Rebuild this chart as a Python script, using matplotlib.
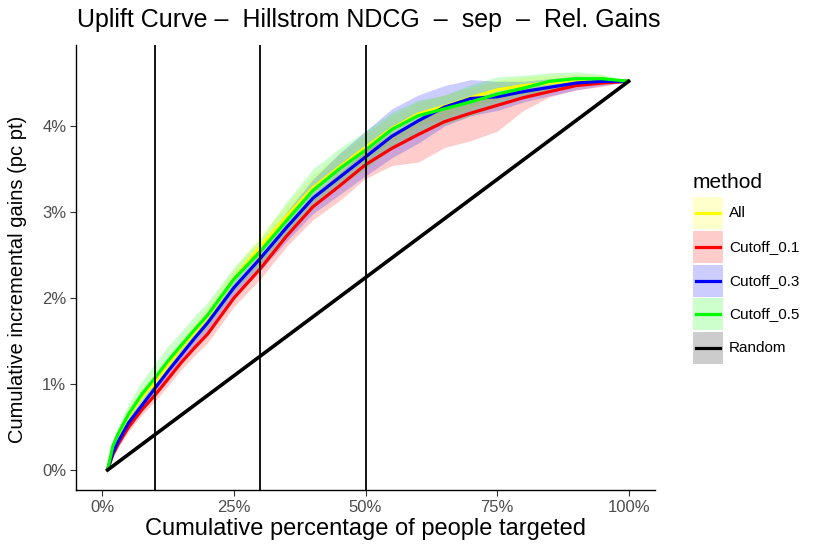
import matplotlib
matplotlib.use("Agg")
import matplotlib.pyplot as plt
from matplotlib.patches import Rectangle
from matplotlib.lines import Line2D
import numpy as np

plt.rcParams['font.family'] = ['Liberation Sans', 'DejaVu Sans']

# ---- data ----
pct = [1, 2, 3, 5, 7.5, 10, 12.5, 15, 17.5, 20, 25, 30, 35, 40, 45, 50,
       55, 60, 65, 70, 75, 80, 85, 90, 95, 100]

all_gain = [0.00, 0.25, 0.40, 0.63, 0.85, 1.02, 1.22, 1.42, 1.60, 1.78, 2.22, 2.60, 2.95, 3.28,
            3.52, 3.75, 3.97, 4.14, 4.23, 4.33, 4.42, 4.47, 4.50, 4.53, 4.54, 4.52]
cut01_gain = [0.00, 0.18, 0.30, 0.50, 0.70, 0.87, 1.06, 1.25, 1.42, 1.58, 2.00, 2.34, 2.72, 3.06,
              3.30, 3.55, 3.74, 3.90, 4.05, 4.15, 4.24, 4.33, 4.40, 4.47, 4.50, 4.52]
cut03_gain = [0.00, 0.20, 0.33, 0.55, 0.75, 0.95, 1.15, 1.34, 1.53, 1.71, 2.12, 2.46, 2.82, 3.16,
              3.40, 3.64, 3.88, 4.06, 4.22, 4.32, 4.34, 4.40, 4.45, 4.50, 4.52, 4.52]
cut05_gain = [0.00, 0.28, 0.42, 0.65, 0.88, 1.07, 1.27, 1.45, 1.63, 1.80, 2.22, 2.54, 2.90, 3.25,
              3.50, 3.72, 3.96, 4.12, 4.20, 4.28, 4.37, 4.44, 4.52, 4.55, 4.55, 4.52]

# ribbon extents below / above each curve
all_dn = [0, 0.06, 0.08, 0.10, 0.10, 0.10, 0.10, 0.10, 0.11, 0.12, 0.12, 0.13, 0.14, 0.15,
          0.15, 0.15, 0.15, 0.14, 0.13, 0.12, 0.11, 0.10, 0.09, 0.07, 0.05, 0]
all_up = [0, 0.06, 0.08, 0.10, 0.10, 0.10, 0.10, 0.10, 0.11, 0.12, 0.12, 0.13, 0.14, 0.15,
          0.15, 0.15, 0.15, 0.14, 0.13, 0.12, 0.11, 0.10, 0.09, 0.07, 0.05, 0]
cut01_dn = [0, 0.03, 0.04, 0.05, 0.06, 0.07, 0.08, 0.08, 0.09, 0.10, 0.10, 0.12, 0.12, 0.15,
            0.17, 0.16, 0.20, 0.32, 0.30, 0.32, 0.30, 0.15, 0.06, 0.05, 0.04, 0]
cut01_up = [0, 0.03, 0.04, 0.05, 0.06, 0.07, 0.08, 0.08, 0.09, 0.10, 0.10, 0.12, 0.14, 0.14,
            0.15, 0.16, 0.18, 0.18, 0.15, 0.15, 0.12, 0.10, 0.08, 0.06, 0.04, 0]
cut03_dn = [0, 0.04, 0.05, 0.06, 0.07, 0.08, 0.09, 0.10, 0.10, 0.11, 0.12, 0.14, 0.16, 0.18,
            0.20, 0.22, 0.25, 0.26, 0.22, 0.20, 0.16, 0.12, 0.10, 0.08, 0.05, 0]
cut03_up = [0, 0.04, 0.05, 0.06, 0.07, 0.08, 0.09, 0.10, 0.10, 0.11, 0.12, 0.14, 0.18, 0.22,
            0.28, 0.30, 0.32, 0.30, 0.25, 0.22, 0.18, 0.12, 0.10, 0.08, 0.05, 0]
cut05_dn = [0, 0.05, 0.06, 0.08, 0.09, 0.10, 0.11, 0.12, 0.12, 0.13, 0.14, 0.15, 0.16, 0.18,
            0.20, 0.22, 0.22, 0.20, 0.18, 0.16, 0.14, 0.12, 0.10, 0.08, 0.05, 0]
cut05_up = [0, 0.06, 0.08, 0.12, 0.15, 0.17, 0.17, 0.16, 0.16, 0.15, 0.14, 0.15, 0.22, 0.25,
            0.24, 0.22, 0.20, 0.18, 0.16, 0.20, 0.20, 0.15, 0.10, 0.08, 0.05, 0]

random_pct = [1, 100]
random_gain = [0.00, 4.52]

cutoff_lines = [10, 30, 50]

methods = ["All", "Cutoff_0.1", "Cutoff_0.3", "Cutoff_0.5", "Random"]
colors = ["#FFFF00", "#FF0000", "#0000FF", "#00FF00", "#000000"]

x_ticks = [0, 25, 50, 75, 100]
x_tick_labels = ["0%", "25%", "50%", "75%", "100%"]
y_ticks = [0, 1, 2, 3, 4]
y_tick_labels = ["0%", "1%", "2%", "3%", "4%"]

# ---- figure ----
W, H = 830, 554
fig = plt.figure(figsize=(W / 100, H / 100), dpi=100)
L, R, B, T = 76, 655, 490, 45
ax = fig.add_axes([L / W, 1 - B / H, (R - L) / W, (B - T) / H])

series = [(all_gain, all_dn, all_up), (cut01_gain, cut01_dn, cut01_up),
          (cut03_gain, cut03_dn, cut03_up), (cut05_gain, cut05_dn, cut05_up)]
x = np.array(pct)
for (g, dn, up), c in zip(series, colors[:4]):
    g = np.array(g)
    ax.fill_between(x, g - np.array(dn), g + np.array(up), color=c, alpha=0.2,
                    linewidth=0, zorder=1)
for (g, dn, up), c in zip(series, colors[:4]):
    ax.plot(x, g, color=c, linewidth=2.3, zorder=3, solid_capstyle='butt')
ax.plot(random_pct, random_gain, color="black", linewidth=2.6, zorder=3)

for v in cutoff_lines:
    ax.axvline(v, color="black", linewidth=1.3, zorder=4)

ax.set_xlim(-5, 105)
ax.set_ylim(-0.2326, 4.942)
ax.set_xticks(x_ticks)
ax.set_xticklabels(x_tick_labels)
ax.set_yticks(y_ticks)
ax.set_yticklabels(y_tick_labels)
ax.tick_params(axis='both', colors="#333333", labelcolor="#4D4D4D", labelsize=12,
               length=4, width=0.8, pad=3)
for s in ["top", "right"]:
    ax.spines[s].set_visible(False)
for s in ["left", "bottom"]:
    ax.spines[s].set_linewidth(1.0)
    ax.spines[s].set_color("black")

ax.set_xlabel("Cumulative percentage of people targeted", fontsize=17, labelpad=2)
ax.set_ylabel("Cumulative incremental gains (pc pt)", fontsize=14.5)
ax.yaxis.set_label_coords((27 - L) / (R - L), (B - 279) / (B - T))
fig.text(77 / W, 1 - 20 / H, "Uplift Curve \u2013  Hillstrom NDCG  \u2013  sep  \u2013  Rel. Gains",
         fontsize=18, ha="left", va="center")

# ---- legend ----
fig.text(693 / W, 1 - 183 / H, "method", fontsize=15, ha="left", va="center")
key_x0, key_w, key_h = 693, 30, 32
for i, (m, c) in enumerate(zip(methods, colors)):
    cy = 213 + i * 33.8
    fig.add_artist(Rectangle((key_x0 / W, 1 - (cy + key_h / 2) / H), key_w / W, key_h / H,
                             transform=fig.transFigure, facecolor=c, alpha=0.2,
                             edgecolor="none"))
    fig.add_artist(Line2D([(key_x0 + 3) / W, (key_x0 + key_w - 3) / W],
                          [1 - cy / H, 1 - cy / H], transform=fig.transFigure,
                          color=c, linewidth=2.3))
    fig.text((key_x0 + key_w + 6) / W, 1 - cy / H, m, fontsize=11, ha="left", va="center")

fig.savefig("out.png", dpi=100)
